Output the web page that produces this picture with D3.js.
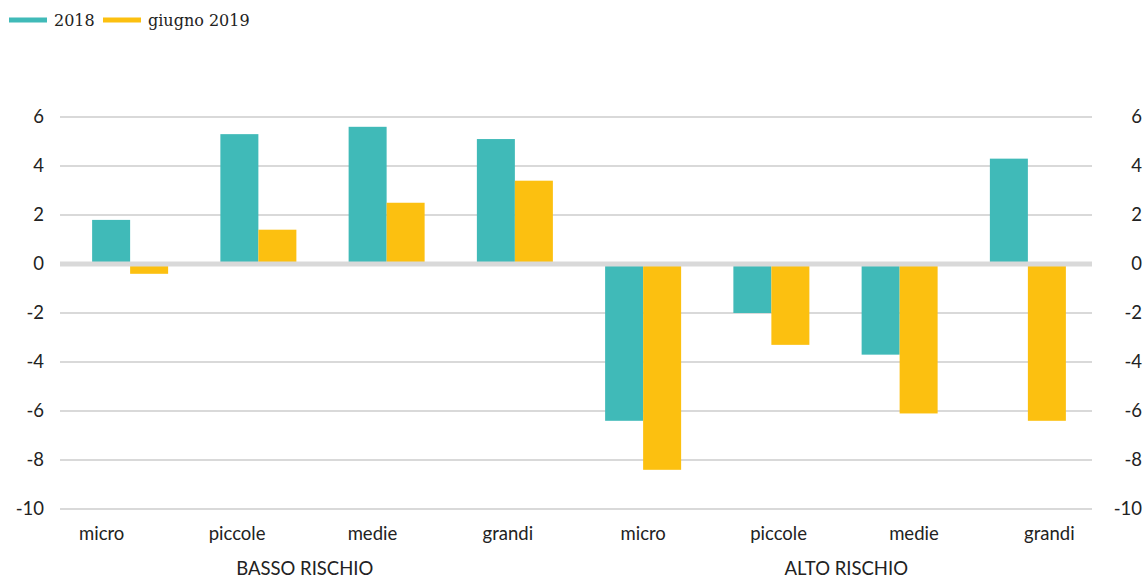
<!DOCTYPE html>
<html><head><meta charset="utf-8">
<script src="https://cdn.jsdelivr.net/npm/d3@7"></script>
<style>body{margin:0;background:#fff}svg{display:block}</style>
</head><body>
<script>
const categories = ["micro","piccole","medie","grandi","micro","piccole","medie","grandi"];
const groups = ["BASSO RISCHIO","ALTO RISCHIO"];
const seriesNames = ["2018","giugno 2019"];
const values2018 = [1.8, 5.3, 5.6, 5.1, -6.4, -2.0, -3.7, 4.3];
const valuesGiugno2019 = [-0.4, 1.4, 2.5, 3.4, -8.4, -3.3, -6.1, -6.4];
const yTicks = [6,4,2,0,-2,-4,-6,-8,-10];
const colors = ["#40BAB8","#FCC010"];

const W=1146,H=580;
const svg=d3.select("body").append("svg").attr("width",W).attr("height",H);
const idx=d3.range(categories.length);
const y=d3.scaleLinear().domain([-10,6]).range([509,117]);
const x=d3.scaleBand().domain(idx).range([66,1092]).padding(0);
const x1=d3.scaleBand().domain([0,1]).range([0,x.bandwidth()]).paddingInner(0).paddingOuter(0.6875);
const xl=d3.scaleBand().domain(idx).range([34,1117]);
const data=[values2018,valuesGiugno2019];
const font="Lato, 'Open Sans', sans-serif";
const fs=18.5;

// gridlines
svg.append("g").selectAll("line").data(yTicks.filter(d=>d!==0)).join("line")
  .attr("x1",60).attr("x2",1092).attr("y1",d=>y(d)).attr("y2",d=>y(d))
  .attr("stroke","#D9D9D9").attr("stroke-width",2);

// bars
data.forEach((vals,s)=>{
  svg.append("g").selectAll("rect").data(vals).join("rect")
    .attr("x",(d,i)=>x(i)+x1(s)).attr("width",x1.bandwidth())
    .attr("y",d=>y(Math.max(0,d))).attr("height",d=>Math.abs(y(d)-y(0)))
    .attr("fill",colors[s]);
});
// zero line
svg.append("line").attr("x1",60).attr("x2",1092).attr("y1",y(0)).attr("y2",y(0))
  .attr("stroke","#D9D9D9").attr("stroke-width",5);

// y axes
const fmt=d=>String(d);
const ga=svg.append("g").attr("transform","translate(44,0)")
  .call(d3.axisLeft(y).tickValues(yTicks).tickSize(0).tickPadding(0).tickFormat(fmt));
const gb=svg.append("g").attr("transform","translate(1142,0)")
  .call(d3.axisLeft(y).tickValues(yTicks).tickSize(0).tickPadding(0).tickFormat(fmt));
[ga,gb].forEach(g=>{g.select(".domain").remove();
  g.selectAll("text").attr("font-family",font).attr("font-size",fs).attr("fill","#222").attr("dy","0.32em");});

// category labels
svg.append("g").selectAll("text").data(categories).join("text")
  .attr("x",(d,i)=>xl(i)+xl.bandwidth()/2).attr("y",540)
  .attr("text-anchor","middle").attr("font-family",font).attr("font-size",fs).attr("fill","#222")
  .text(d=>d);
svg.append("g").selectAll("text").data(groups).join("text")
  .attr("x",(d,g)=>(xl(g*4)+xl(g*4+3)+xl.bandwidth())/2).attr("y",575)
  .attr("text-anchor","middle").attr("font-family",font).attr("font-size",fs).attr("fill","#222")
  .text(d=>d);

// legend
const lg=svg.append("g");
const lx=[9,103];
seriesNames.forEach((n,s)=>{
  lg.append("line").attr("x1",lx[s]).attr("x2",lx[s]+38).attr("y1",20).attr("y2",20)
    .attr("stroke",colors[s]).attr("stroke-width",5);
  lg.append("text").attr("x",lx[s]+45).attr("y",26).attr("font-family","'DejaVu Serif', serif")
    .attr("font-size",16).attr("fill","#222").text(n);
});
</script>
</body></html>
